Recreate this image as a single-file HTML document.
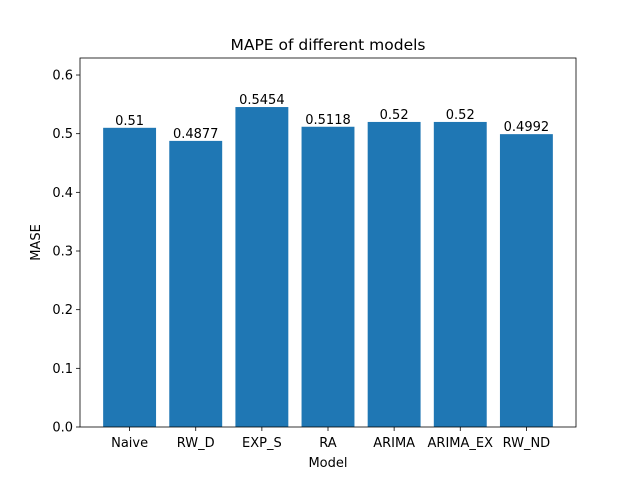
<!DOCTYPE html>
<html><head><meta charset="utf-8"><style>
body{margin:0;background:#fff;}
svg{display:block;font-family:"DejaVu Sans","Liberation Sans",sans-serif;}
</style></head><body>
<svg id="chart" width="640" height="480"></svg>
<script>
const categories=["Naive","RW_D","EXP_S","RA","ARIMA","ARIMA_EX","RW_ND"];
const values=[0.51,0.4877,0.5454,0.5118,0.52,0.52,0.4992];
const valueLabels=["0.51","0.4877","0.5454","0.5118","0.52","0.52","0.4992"];
const yTicks=[0,0.1,0.2,0.3,0.4,0.5,0.6];
const yTickLabels=["0.0","0.1","0.2","0.3","0.4","0.5","0.6"];

const L=80,R=576,T=58,B=427,ymax=0.629;
const svg=document.getElementById('chart');
const NS="http://www.w3.org/2000/svg";
function X(i){return L+(i+0.75)/7.5*(R-L);}
function Y(v){return B-v/ymax*(B-T);}
function mk(tag,attrs,text){const e=document.createElementNS(NS,tag);for(const k in attrs)e.setAttribute(k,attrs[k]);if(text!==undefined)e.textContent=text;svg.appendChild(e);return e;}
const bw=0.8/7.5*(R-L);
categories.forEach((c,i)=>{
  const b=mk('rect',{x:X(i)-bw/2,y:Y(values[i]),width:bw,height:B-Y(values[i]),fill:'#1f77b4'});
  
  
  const t=mk('text',{x:X(i),y:Y(values[i])-3,'text-anchor':'middle','font-size':'13'},valueLabels[i]);
  
  
  mk('line',{x1:X(i),x2:X(i),y1:B,y2:B+4,stroke:'#000','stroke-width':0.8});
  const xl=mk('text',{x:X(i),y:B+20,'text-anchor':'middle','font-size':'13'},c);
  
  
});
yTicks.forEach((v,i)=>{
  mk('line',{x1:L-4,x2:L,y1:Y(v),y2:Y(v),stroke:'#000','stroke-width':0.8});
  const yl=mk('text',{x:L-7,y:Y(v)+4.5,'text-anchor':'end','font-size':'13'},yTickLabels[i]);
  
  
});
const f=mk('rect',{x:L,y:T,width:R-L,height:B-T,fill:'none',stroke:'#000','stroke-width':0.8});


const ti=mk('text',{x:(L+R)/2,y:T-8,'text-anchor':'middle','font-size':'15.5'},'MAPE of different models');


const xt=mk('text',{x:(L+R)/2,y:467,'text-anchor':'middle','font-size':'13'},'Model');


const yt=mk('text',{x:0,y:0,'text-anchor':'middle','font-size':'13',transform:'translate(40,'+((T+B)/2)+') rotate(-90)'},'MASE');


</script>
</body></html>
